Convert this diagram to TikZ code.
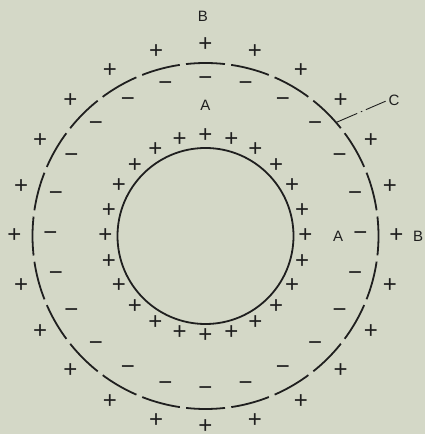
\documentclass[tikz,border=0pt]{standalone}
\usepackage{fontspec}
\setmainfont{Liberation Sans}
\usetikzlibrary{calc}
\definecolor{paper}{HTML}{D4D8C7}
\definecolor{ink}{HTML}{1F1F1F}

\begin{document}
\begin{tikzpicture}[x=1pt, y=1pt,
      every node/.style={font=\fontsize{15}{17}\selectfont, text=ink, inner sep=0pt},
      charge/.style={font=\fontsize{24}{26}\selectfont},
      shell/.style={draw=ink, line width=1.8pt, dash pattern=on 39pt off 6.3pt, dash phase=19.5pt},
      core/.style={draw=ink, line width=1.8pt},
      leader/.style={draw=ink, line width=0.9pt, dash pattern=on 23pt off 4pt on 1.5pt off 4pt on 40pt off 0pt},
    ]
    \fill[paper] (0,0) rectangle (425,434);
    \useasboundingbox (0,0) rectangle (425,434);

    \coordinate (O) at (205.5,198);
    \draw[core] (O) circle (88);
    \draw[shell] (O) circle (173);

    % charges on the three rings
    \foreach \a [count=\i] in {0,15,...,345} {
      \node[charge] (out\i) at ($(O)+(\a:191)$) {+};
      \node[charge] (neg\i) at ($(O)+(\a:155)$) {−};
      \node[charge] (pos\i) at ($(O)+(\a:100)$) {+};
    }

    \node (A1) at ($(O)+(90:131)$) {A};
    \node (A2) at (338,198) {A};
    \node (B1) at (203,418) {B};
    \node[anchor=west] (B2) at (413,198) {B};
    \node (C) at (394,334) {C};

    \coordinate (onshell) at ($(O)+(41:173)$);
    \draw[leader, shorten >=3pt] (onshell) -- (C.west);
  \end{tikzpicture}
\end{document}
